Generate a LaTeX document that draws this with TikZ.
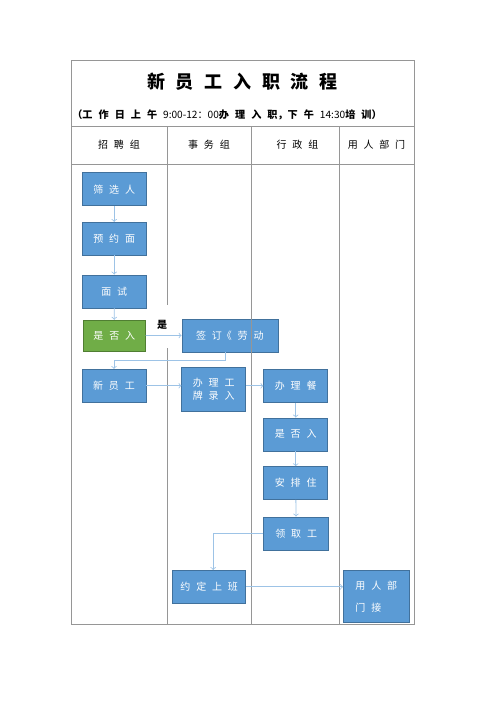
\documentclass[tikz,border=0pt]{standalone}
\usepackage{fontspec}
\newfontfamily\cjk[WordSpace=2.6]{Noto Sans CJK SC}
\definecolor{boxblue}{RGB}{91,155,213}
\definecolor{boxedge}{RGB}{65,113,156}
\definecolor{okgreen}{RGB}{112,173,71}
\definecolor{okedge}{RGB}{80,126,50}
\definecolor{flowblue}{RGB}{157,195,230}
\definecolor{gridgray}{RGB}{150,150,150}
\begin{document}
\begin{tikzpicture}[x=0.75pt, y=-0.75pt,
    box/.style={draw=boxedge, fill=boxblue, text=white, inner sep=0pt,
        font=\cjk\fontsize{7.5}{9}\selectfont,
        minimum width=48pt, minimum height=24.75pt},
    okbox/.style={box, draw=okedge, fill=okgreen},
    flow/.style={draw=flowblue, ->, semithick},
    rule/.style={draw=gridgray, semithick},
    head/.style={font=\cjk\fontsize{7.5}{9}\selectfont}]
    \useasboundingbox (0,0) rectangle (500,707);

        % title and lane heads
        \node[font=\cjk\bfseries\fontsize{13.5}{16}\selectfont] (title) at (242.3,81.7) {新 员 工 入 职 流 程};
        \node[font=\cjk\fontsize{7.6}{9}\selectfont] (sub) at (227,114.5)
            {{\bfseries （工 作 日 上 午} 9:00-12：00{\bfseries 办 理 入 职，下 午} 14:30{\bfseries 培 训）}};
        \node[head] (zp) at (119,145) {招 聘 组};
        \node[head] (sw) at (209,145) {事 务 组};
        \node[head] (xz) at (297.5,145) {行 政 组};
        \node[head] (yr) at (376.5,145) {用 人 部 门};

        % steps
        \node[box] (sx) at (114.2,189.2) {筛 选 人};
        \node[box] (yy) at (114.2,238.7) {预 约 面};
        \node[box] (ms) at (114.2,291.3) {面 试};
        \node[okbox, minimum width=46.5pt, minimum height=23.5pt] (sf1) at (114.3,335.7) {是 否 入};
        \node[box, minimum width=72pt] (qd) at (229.8,335.3) {签 订《 劳 动};
        \node[box] (xyg) at (114,385.7) {新 员 工};
        \node[box, minimum height=33pt, align=left] (blgp) at (213.7,389.5) {办 理 工\\[1pt]牌 录 入};
        \node[box] (blc) at (295.7,385.8) {办 理 餐};
        \node[box] (sf2) at (295.7,434.3) {是 否 入};
        \node[box] (apz) at (295.7,483) {安 排 住};
        \node[box, minimum width=48.75pt] (lqg) at (296.2,533.3) {领 取 工};
        \node[box, minimum width=54.75pt] (ydsb) at (209.2,586.8) {约 定 上 班};
        \node[box, minimum width=49.5pt, minimum height=39pt, align=left] (yrbm) at (376.3,596.7) {用 人 部\\[8pt]门 接};
        \node[font=\cjk\bfseries\fontsize{7.5}{9}\selectfont] (yes) at (162,325) {是};

        % table
        \draw[rule] (71,60.7) rectangle (414.3,624.3);
        \draw[rule] (71,126) -- (414.3,126);
        \draw[rule] (71,164) -- (414.3,164);
        \draw[rule] (167.3,126) -- (167.3,305);
        \draw[rule] (167.3,348) -- (167.3,624.3);
        \foreach \x in {251.7,339.3} {
            \draw[rule] (\x,126) -- (\x,624.3);
        }

        % arrows
        \foreach \a/\b in {sx/yy, yy/ms, ms/sf1, blc/sf2, sf2/apz, apz/lqg} {
            \draw[flow] (\a) -- (\b);
        }
        \draw[flow] (sf1) -- (qd);
        \coordinate (bend1) at (114,360.7);
        \draw[flow] ([xshift=-3pt]qd.south) |- (bend1) -- (xyg.north);
        \draw[flow] (xyg.east) -- (xyg.east -| blgp.west);
        \draw[flow] (blc.west -| blgp.east) -- (blc.west);
        \draw[flow] (lqg.west) -| ([xshift=3pt]ydsb.north);
        \draw[flow] (ydsb.east) -- (ydsb.east -| yrbm.west);
    \end{tikzpicture}
\end{document}
